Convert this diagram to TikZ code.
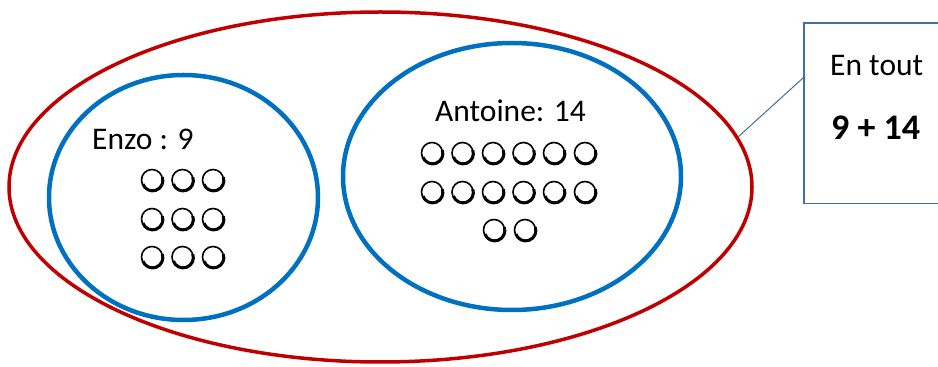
\documentclass[tikz,border=0pt]{standalone}
\usepackage{fontspec}
\setmainfont{Carlito}
\usetikzlibrary{shapes.geometric,calc}
\definecolor{redE}{HTML}{C00000}
\definecolor{blueE}{HTML}{0070C0}
\definecolor{boxE}{HTML}{41719C}
\tikzset{
  outer/.style={ellipse, draw=redE, line width=3.5pt, inner sep=0pt},
  group/.style={ellipse, draw=blueE, line width=4.5pt, inner sep=0pt},
  lbl/.style={anchor=base west, inner sep=0pt, font=\fontsize{31.5}{36}\selectfont},
  sumlbl/.style={anchor=base west, inner sep=0pt, font=\fontsize{36}{40}\selectfont\bfseries},
  boxline/.style={draw=boxE, line width=1.3pt},
}
\newcommand{\shcirc}[2]{%
  \draw[line width=1.6pt] (#1,#2) circle[radius=10.5pt];
  \draw[line width=3pt] (#1,#2) ++(0.6pt,-0.6pt) ++(200:10.3pt) arc[start angle=200,end angle=380,radius=10.3pt];
}
\begin{document}
\begin{tikzpicture}[x=1pt,y=1pt]
\useasboundingbox (0,0) rectangle (938,367);
\fill[white] (0,0) rectangle (938,367);
\node[outer, minimum width=743, minimum height=350] (all) at (380.5,180) {};
\node[group, minimum width=269, minimum height=245] (enzo) at (183.5,169.5) {};
\node[group, minimum width=338, minimum height=267] (antoine) at (512,190.5) {};
\node[lbl] (enzolbl) at (92,217) {Enzo : 9};
\node[lbl] (antlbl) at (435,245) {Antoine: 14};
% dots Enzo
\foreach \y in {187,148,110}{
  \foreach \x in {152,182.5,213}{ \shcirc{\x}{\y} }
}
% dots Antoine
\foreach \y in {214,175}{
  \foreach \x in {432,462.5,493,523.5,554,585}{ \shcirc{\x}{\y} }
}
\foreach \x in {494,525}{ \shcirc{\x}{137} }
% box
\node[minimum width=134, minimum height=180, inner sep=0pt, anchor=north west] (box) at (804,344) {};
\draw[boxline] (box.north east) -- (box.north west) -- (box.south west) -- (box.south east);
\node[lbl] (entout) at (830,291) {En tout};
\node[sumlbl] (sum) at (831,227) {9 + 14};
\coordinate (boxin) at ($(box.north west)!0.3!(box.south west)$);
\draw[boxline, line width=1pt] (all.8) -- (boxin);
\end{tikzpicture}
\end{document}
